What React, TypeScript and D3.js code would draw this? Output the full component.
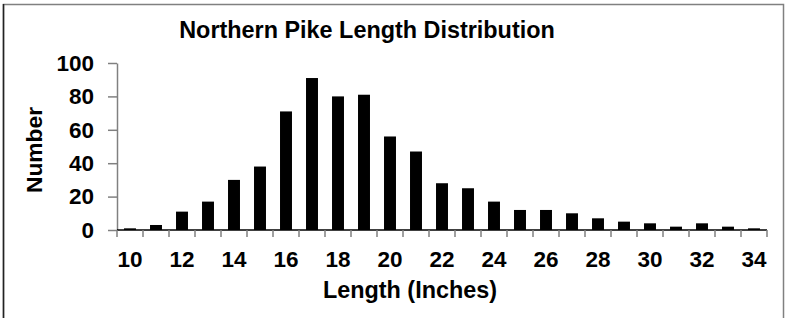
import React, { useRef, useEffect } from 'react';
import * as d3 from 'd3';

// length classes (inches) and fish counts
const lengths: number[] = [10, 11, 12, 13, 14, 15, 16, 17, 18, 19, 20, 21, 22, 23, 24, 25, 26, 27, 28, 29, 30, 31, 32, 33, 34];
const counts: number[] = [1, 3, 11, 17, 30, 38, 71, 91, 80, 81, 56, 47, 28, 25, 17, 12, 12, 10, 7, 5, 4, 2, 4, 2, 1];
const yTicks: number[] = [0, 20, 40, 60, 80, 100];
const xTickLabels: number[] = [10, 12, 14, 16, 18, 20, 22, 24, 26, 28, 30, 32, 34];

const chartTitle = 'Northern Pike Length Distribution';
const xTitle = 'Length (Inches)';
const yTitle = 'Number';

const FONT = '"Liberation Sans", Arial, sans-serif';

const App = () => {
  const svgRef = useRef<SVGSVGElement>(null);

  useEffect(() => {
    const width = 788;
    const height = 318;
    const plot = { left: 117, right: 767, top: 63, bottom: 230 };

    document.body.style.margin = '0';

    const svg = d3.select(svgRef.current);
    svg.selectAll('*').remove();
    svg.attr('width', width).attr('height', height).style('display', 'block');

    svg.append('rect')
      .attr('width', width)
      .attr('height', height)
      .attr('fill', '#fff');

    // outer chart frame (runs off the bottom of the picture)
    svg.append('rect')
      .attr('x', 3.5)
      .attr('y', 4.5)
      .attr('width', 780)
      .attr('height', 330)
      .attr('fill', 'none')
      .attr('stroke', '#808080')
      .attr('stroke-width', 1.5);
    svg.append('line')
      .attr('x1', 3.5).attr('x2', 3.5)
      .attr('y1', 4).attr('y2', height)
      .attr('stroke', '#222')
      .attr('stroke-width', 1.5);

    const data = lengths.map((l, i) => ({ len: l, n: counts[i] }));

    const x = d3.scaleBand<number>()
      .domain(lengths)
      .range([plot.left, plot.right])
      .paddingInner(0.54)
      .paddingOuter(0.27);

    const y = d3.scaleLinear()
      .domain([0, 100])
      .range([plot.bottom, plot.top]);

    // bars
    svg.selectAll('.bar')
      .data(data)
      .enter()
      .append('rect')
      .attr('class', 'bar')
      .attr('x', d => x(d.len)!)
      .attr('y', d => y(d.n))
      .attr('width', x.bandwidth())
      .attr('height', d => y(0) - y(d.n))
      .attr('fill', '#000');

    // y axis
    const yAxis = d3.axisLeft(y)
      .tickValues(yTicks)
      .tickSize(9)
      .tickPadding(14)
      .tickSizeOuter(0);

    const gy = svg.append('g')
      .attr('transform', `translate(${plot.left}, 0)`)
      .call(yAxis);
    gy.select('.domain').attr('stroke', '#808080').attr('stroke-width', 1.5);
    gy.selectAll('.tick line').attr('stroke', '#808080').attr('stroke-width', 1.5);
    gy.selectAll('.tick text')
      .attr('font-family', FONT)
      .attr('font-weight', 'bold')
      .attr('font-size', 22.5)
      .attr('fill', '#000');

    // x axis: ticks sit on the category boundaries
    const boundaries = d3.range(lengths.length + 1).map(i => plot.left + i * x.step());
    const gx = svg.append('g');
    gx.append('line')
      .attr('x1', plot.left).attr('x2', plot.right)
      .attr('y1', plot.bottom).attr('y2', plot.bottom)
      .attr('stroke', '#000')
      .attr('stroke-width', 1.5);
    gx.selectAll('.xtick')
      .data(boundaries)
      .enter()
      .append('line')
      .attr('class', 'xtick')
      .attr('x1', d => d).attr('x2', d => d)
      .attr('y1', plot.bottom).attr('y2', plot.bottom + 7)
      .attr('stroke', '#808080')
      .attr('stroke-width', 1.5);
    gx.selectAll('.xlabel')
      .data(xTickLabels)
      .enter()
      .append('text')
      .attr('class', 'xlabel')
      .attr('x', d => x(d)! + x.bandwidth() / 2)
      .attr('y', 267)
      .attr('text-anchor', 'middle')
      .attr('font-family', FONT)
      .attr('font-weight', 'bold')
      .attr('font-size', 22.5)
      .attr('fill', '#000')
      .text(d => d);

    // titles
    svg.append('text')
      .attr('x', 367)
      .attr('y', 38)
      .attr('text-anchor', 'middle')
      .attr('font-family', FONT)
      .attr('font-weight', 'bold')
      .attr('font-size', 23.4)
      .text(chartTitle);

    svg.append('text')
      .attr('x', 410)
      .attr('y', 298)
      .attr('text-anchor', 'middle')
      .attr('font-family', FONT)
      .attr('font-weight', 'bold')
      .attr('font-size', 23.4)
      .text(xTitle);

    svg.append('text')
      .attr('transform', `translate(42, 150) rotate(-90)`)
      .attr('text-anchor', 'middle')
      .attr('font-family', FONT)
      .attr('font-weight', 'bold')
      .attr('font-size', 22.8)
      .text(yTitle);
  }, []);

  return (
    <div>
      <svg ref={svgRef}></svg>
    </div>
  );
};

export default App;
